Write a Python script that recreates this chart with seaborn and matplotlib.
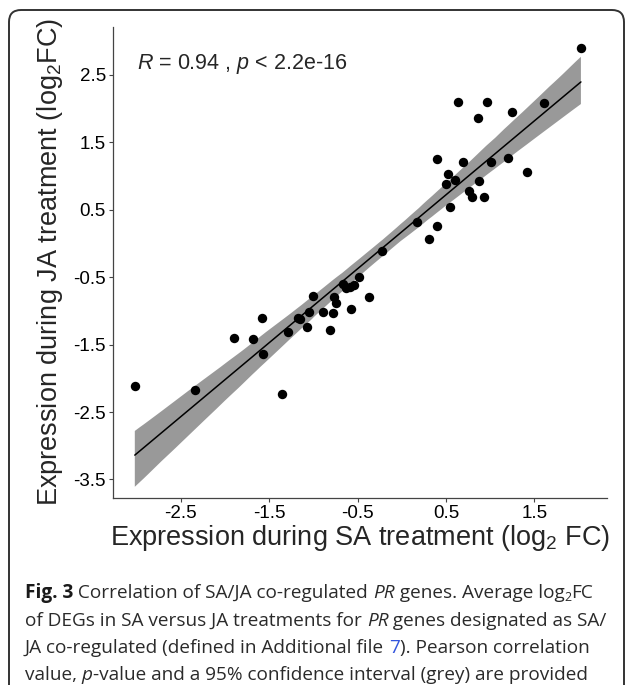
import numpy as np
import pandas as pd
import matplotlib
matplotlib.use('Agg')
import matplotlib.pyplot as plt
import seaborn as sns
from matplotlib.patches import FancyBboxPatch
from matplotlib.transforms import IdentityTransform

# average log2FC of the SA/JA co-regulated PR genes
sa_fc = [2.025, 0.63, 0.965, 1.606, 1.248, 0.856, 0.40, 0.687, 1.007, 1.203,
         1.414, 0.517, 0.494, 0.60, 0.871, 0.758, 0.795, 0.924, 0.54, 0.173,
         0.393, 0.302, -0.23, -0.49, -0.67, -0.63, -0.59, -0.54, -0.37, -0.58,
         -0.77, -0.75, -0.78, -0.89, -0.81, -1.01, -1.05, -1.15, -1.18, -1.075,
         -1.29, -1.58, -1.68, -1.90, -1.57, -2.34, -3.02, -1.36]
ja_fc = [2.89, 2.10, 2.10, 2.08, 1.94, 1.86, 1.25, 1.21, 1.21, 1.26,
         1.05, 1.02, 0.88, 0.94, 0.92, 0.78, 0.68, 0.68, 0.54, 0.31,
         0.25, 0.06, -0.12, -0.505, -0.60, -0.66, -0.65, -0.62, -0.80, -0.97,
         -0.80, -0.89, -1.03, -1.02, -1.28, -0.78, -1.02, -1.12, -1.10, -1.24,
         -1.31, -1.11, -1.42, -1.41, -1.64, -2.17, -2.12, -2.24]

x_ticks = [-2.5, -1.5, -0.5, 0.5, 1.5]
y_ticks = [-3.5, -2.5, -1.5, -0.5, 0.5, 1.5, 2.5]
cor_label = r'$\it{R}$ = 0.94 , $\it{p}$ < 2.2e-16'

caption = [
    [('Fig. 3', 'bold'), (' Correlation of SA/JA co-regulated ', 'normal'), ('PR', 'italic'),
     (' genes. Average log', 'normal'), ('2', 'sub'), ('FC', 'normal')],
    [('of DEGs in SA versus JA treatments for ', 'normal'), ('PR', 'italic'),
     (' genes designated as SA/', 'normal')],
    [('JA co-regulated (defined in Additional file ', 'normal'), ('7', 'link'),
     ('). Pearson correlation', 'normal')],
    [('value, ', 'normal'), ('p', 'italic'),
     ('-value and a 95% confidence interval (grey) are provided', 'normal')],
]

data = pd.DataFrame({'SA': sa_fc, 'JA': ja_fc})

sns.set_style('white')
plt.rcParams['font.family'] = ['Liberation Sans', 'DejaVu Sans']
plt.rcParams['mathtext.fontset'] = 'custom'
plt.rcParams['mathtext.rm'] = 'Liberation Sans'
plt.rcParams['mathtext.it'] = 'Liberation Sans:italic'

W, H = 627, 685
fig = plt.figure(figsize=(W / 100, H / 100), dpi=100)

# frame round the figure panel
frame = FancyBboxPatch((9, -30), 615, H - 10 + 30,
                       boxstyle='round,pad=0,rounding_size=12',
                       transform=IdentityTransform(), fill=False,
                       edgecolor='#333333', linewidth=1.4)
fig.patches.append(frame)

left, right, top, bottom = 112.7, 607, 26.7, 497.7
ax = fig.add_axes([left / W, 1 - bottom / H, (right - left) / W, (bottom - top) / H])

sns.regplot(data=data, x='SA', y='JA', ax=ax, ci=95, seed=3,
            scatter_kws={'s': 46, 'color': 'black', 'linewidths': 0, 'alpha': 1, 'zorder': 3},
            line_kws={'color': 'black', 'linewidth': 1.1, 'zorder': 4},
            color='black')
for coll in ax.collections:
    if isinstance(coll, matplotlib.collections.PolyCollection):
        coll.set_facecolor('#999999')
        coll.set_alpha(1)
        coll.set_edgecolor('none')
        coll.set_zorder(2)

ax.set_xlim(-3.27, 2.32)
ax.set_ylim(-3.77, 3.21)
ax.set_xticks(x_ticks)
ax.set_xticklabels([f'{v:.1f}' for v in x_ticks])
ax.set_yticks(y_ticks)
ax.set_yticklabels([f'{v:.1f}' for v in y_ticks])
ax.tick_params(axis='both', labelsize=13.5, length=3, width=0.8, color='#444444',
               labelcolor='black', pad=2, direction='out', bottom=True, left=True)
ax.set_xlabel('')
ax.set_ylabel('')
sns.despine(ax=ax)
for side in ['left', 'bottom']:
    ax.spines[side].set_color('#444444')
    ax.spines[side].set_linewidth(0.9)

ax.text(-3.0, 2.65, cor_label, fontsize=15.5, ha='left', va='center')

fig.text((left + right) / 2 / W, 1 - 538 / H, r'Expression during SA treatment (log$_2$ FC)',
         fontsize=19.5, ha='center', va='center')
fig.text(50 / W, 1 - (top + bottom) / 2 / H, r'Expression during JA treatment (log$_2$FC)',
         fontsize=19.5, ha='center', va='center', rotation=90)

# caption, drawn piece by piece
renderer = fig.canvas.get_renderer()
cap_font = ['Open Sans', 'DejaVu Sans']
cap_size = 13.7
line_y = [592, 619.5, 647, 674.5]
for pieces, yy in zip(caption, line_y):
    xx = 25
    for txt, style in pieces:
        kw = dict(fontsize=cap_size, family=cap_font, color='#2a2a2a', va='baseline', ha='left')
        y_pos = yy + 6
        if style == 'bold':
            kw['fontweight'] = 'bold'
            kw['color'] = '#1a1a1a'
        elif style == 'italic':
            kw['fontstyle'] = 'italic'
        elif style == 'sub':
            kw['fontsize'] = cap_size * 0.65
            y_pos += 3
        elif style == 'link':
            kw['color'] = '#3355dd'
        t = fig.text(xx / W, 1 - y_pos / H, txt, **kw)
        xx += t.get_window_extent(renderer).width

fig.savefig('out.png', dpi=100)
